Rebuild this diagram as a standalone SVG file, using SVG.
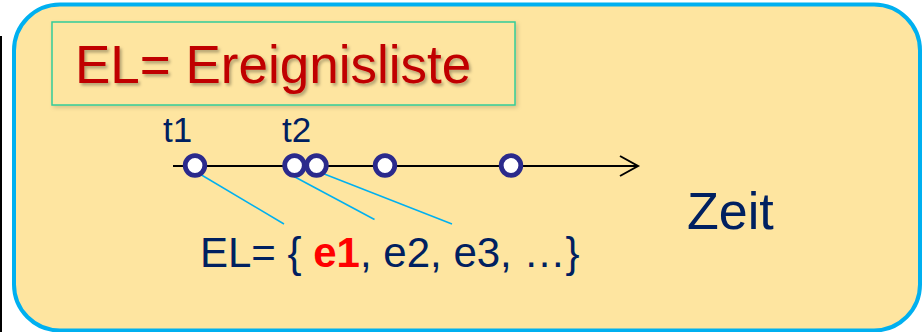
<svg xmlns="http://www.w3.org/2000/svg" width="924" height="332" viewBox="0 0 924 332">
  <defs>
    <style>
      .navy { fill: #002060; font-family: "Liberation Sans", Arial, sans-serif; }
      .ev { fill: #ffffff; stroke: #2b2a8c; stroke-width: 4.8; }
      .conn { stroke: #00b0f0; stroke-width: 1.5; fill: none; }
      .axis { stroke: #000000; stroke-width: 2; fill: none; }
    </style>
    <filter id="tshadow" x="-5%" y="-20%" width="110%" height="150%">
      <feDropShadow dx="2" dy="2.5" stdDeviation="1.5" flood-color="#000000" flood-opacity="0.3"/>
    </filter>
    <filter id="bshadow" x="-5%" y="-10%" width="110%" height="130%">
      <feDropShadow dx="2" dy="2" stdDeviation="2" flood-color="#000000" flood-opacity="0.15"/>
    </filter>
  </defs>

  <rect x="0" y="0" width="924" height="332" fill="#ffffff"/>
  <line x1="1" y1="36" x2="1" y2="332" stroke="#000000" stroke-width="2"/>

  <g id="frame">
    <rect x="14" y="4.5" width="906" height="326" rx="46" ry="46" fill="#fee5a0" stroke="#00b0f0" stroke-width="4"/>
  </g>

  <g id="title">
    <rect x="52" y="22" width="463" height="83" fill="#fee5a0" stroke="#33cc99" stroke-width="1.5" filter="url(#bshadow)"/>
    <text x="75" y="82.5" font-family="'Liberation Sans', Arial, sans-serif" font-size="53" fill="#c00000" filter="url(#tshadow)">EL= Ereignisliste</text>
  </g>

  <g id="axis">
    <line class="axis" x1="173" y1="166" x2="637" y2="166"/>
    <polyline class="axis" points="620,156 638,166 620,176"/>
  </g>

  <g id="labels-t">
    <text class="navy" x="163" y="142" font-size="35">t1</text>
    <text class="navy" x="282" y="142" font-size="35">t2</text>
  </g>

  <g id="connectors">
    <line class="conn" x1="201.5" y1="175" x2="284" y2="224"/>
    <line class="conn" x1="294" y1="176.5" x2="374.5" y2="219.5"/>
    <line class="conn" x1="323" y1="173.5" x2="452" y2="224"/>
  </g>

  <g id="event1"><circle class="ev" cx="195" cy="165.5" r="9.8"/></g>
  <g id="event2"><circle class="ev" cx="294.5" cy="165.5" r="9.8"/></g>
  <g id="event3"><circle class="ev" cx="316.5" cy="165.5" r="9.8"/></g>
  <g id="event4"><circle class="ev" cx="385" cy="165.5" r="9.8"/></g>
  <g id="event5"><circle class="ev" cx="511" cy="165.5" r="9.8"/></g>

  <g id="eventlist">
    <text class="navy" x="200" y="266.5" font-size="42">EL= { <tspan fill="#ff0000" font-weight="bold">e1</tspan>, e2, e3, …}</text>
  </g>

  <g id="zeit">
    <text class="navy" x="687" y="228.5" font-size="52">Zeit</text>
  </g>
</svg>
